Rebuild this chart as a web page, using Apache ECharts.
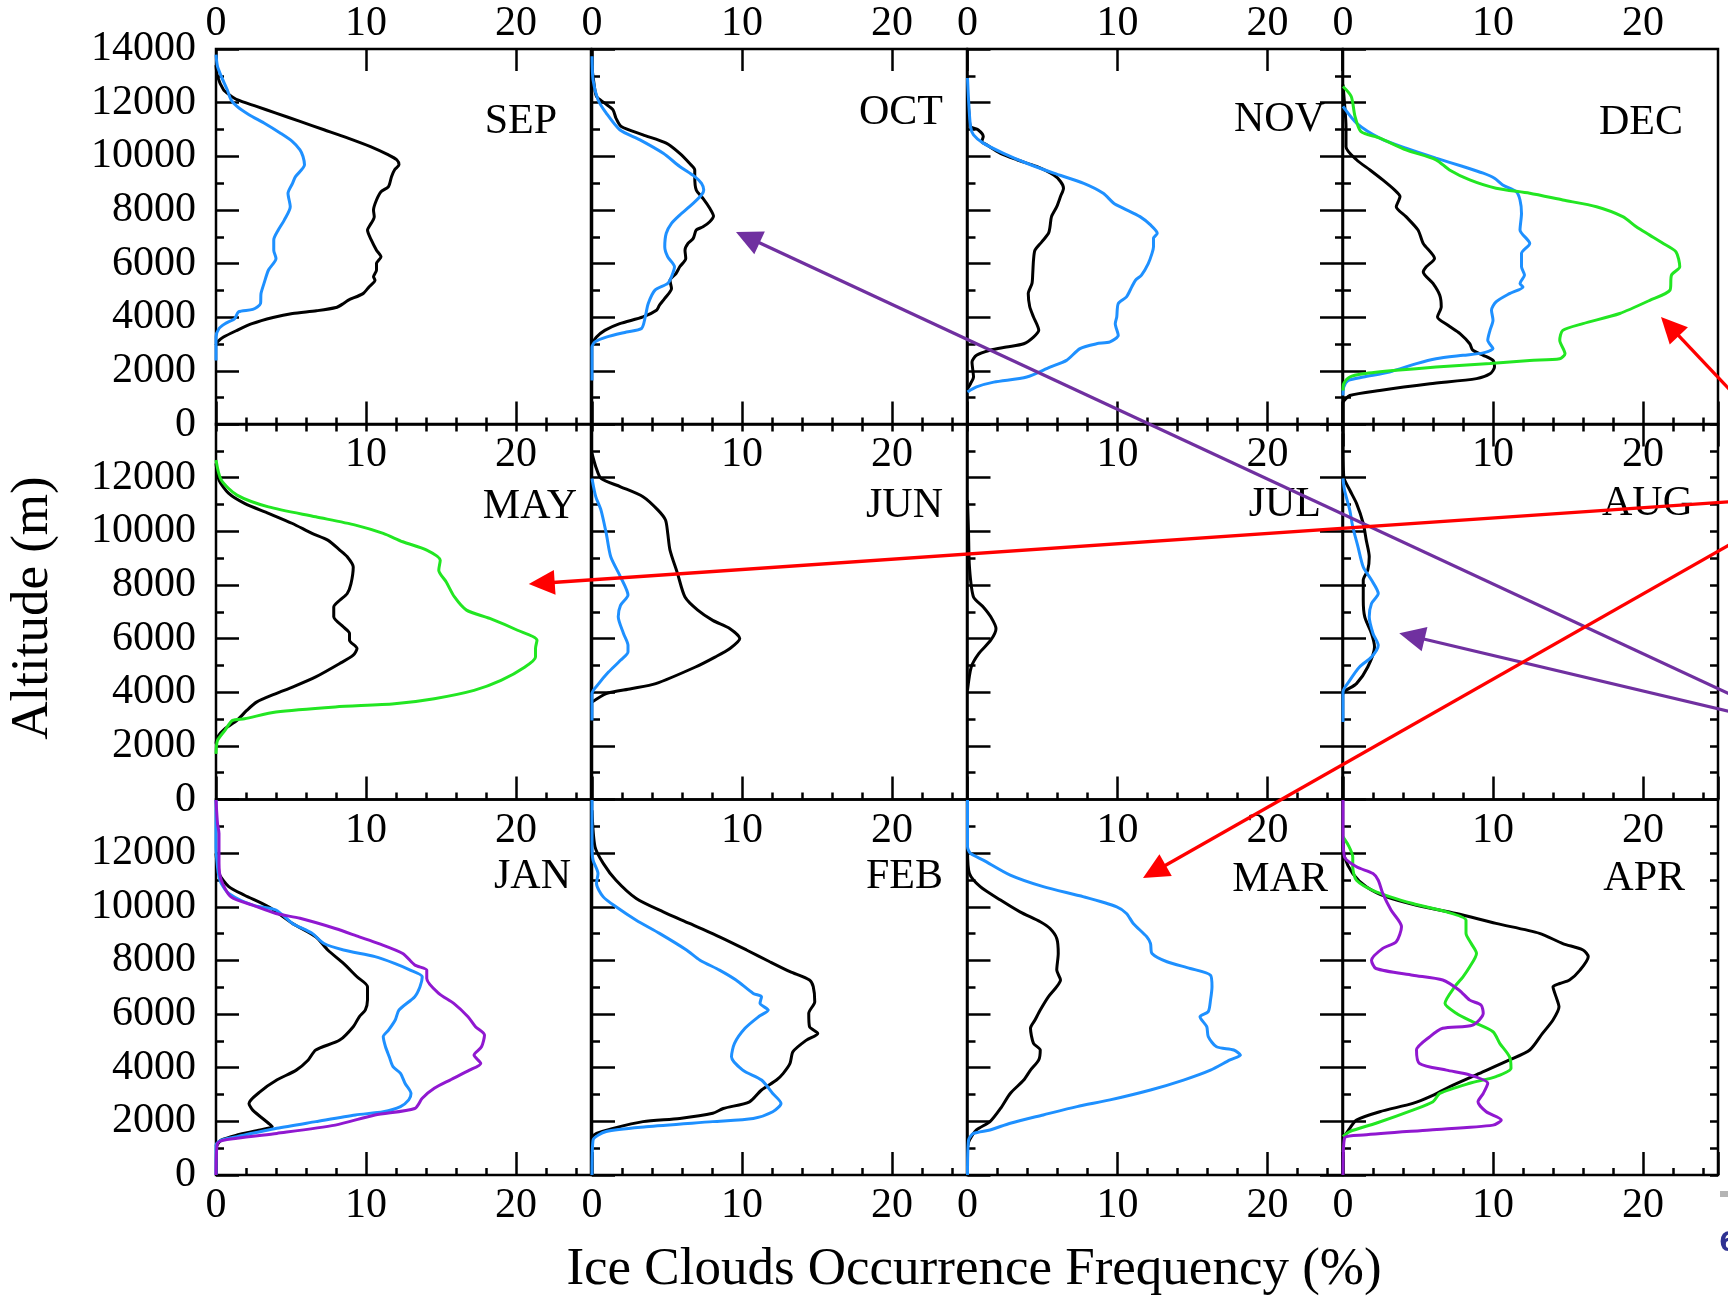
<!DOCTYPE html>
<html>
<head>
<meta charset="utf-8">
<script src="https://cdn.jsdelivr.net/npm/echarts@6/dist/echarts.min.js"></script>
<style>
  html, body { margin: 0; padding: 0; background: #fff; }
  #chart { width: 1728px; height: 1297px; }
</style>
</head>
<body>
<div id="chart"></div>
<script>
// Ice-cloud occurrence frequency profiles, one panel per month.
// Each point is [frequency (%), altitude (m)].
const SEP_BLACK = [[0,13400],[0.1,12980],[0.5,12480],[0.9,12290],[1.4,12110],[2.7,11860],[4.0,11610],[5.6,11300],[7.2,10990],[8.8,10680],[10.3,10360],[11.5,10050],[12.05,9870],[12.2,9680],[11.9,9490],[11.7,9240],[11.5,8870],[11.0,8680],[10.7,8370],[10.5,8000],[10.55,7750],[10.2,7370],[10.1,7250],[10.35,6880],[10.7,6500],[11.0,6250],[10.7,6000],[10.7,5760],[10.5,5510],[10.6,5380],[10.2,5130],[9.8,4880],[8.8,4630],[8.5,4510],[8.0,4360],[6.7,4240],[5.1,4140],[3.8,3990],[2.4,3760],[1.4,3510],[0.5,3260],[0.1,3080],[0,2950]];
const SEP_BLUE = [[0,13790],[0.1,13350],[0.35,12980],[0.75,12480],[1.0,12110],[1.4,11860],[2.2,11550],[3.2,11240],[4.3,10860],[5.1,10550],[5.6,10240],[5.8,9990],[5.9,9680],[5.3,9240],[5.1,8990],[4.8,8620],[4.95,8120],[4.55,7620],[4.15,7250],[3.85,6880],[3.85,6500],[4.0,6190],[3.5,5760],[3.2,5260],[3.0,4880],[2.97,4510],[2.45,4290],[1.5,4200],[1.25,3950],[0.6,3760],[0.2,3580],[0,3260],[0,2390]];

const OCT_BLACK = [[0,13300],[0.07,12980],[0.3,12230],[0.85,11980],[1.4,11730],[1.6,11420],[1.95,11110],[3.4,10800],[4.95,10490],[5.85,10110],[6.5,9740],[6.85,9490],[6.85,9240],[6.95,8740],[7.4,8430],[7.85,8060],[8.1,7770],[7.85,7560],[7.4,7370],[6.95,7250],[6.75,6940],[6.4,6750],[6.2,6500],[6.25,6190],[5.85,5880],[5.6,5630],[5.2,5380],[5.3,5070],[4.85,4700],[4.5,4450],[4.3,4260],[3.4,4010],[1.85,3760],[0.85,3510],[0.3,3260],[0,3010]];
const OCT_BLUE = [[0,13730],[0.07,12850],[0.4,12110],[0.95,11610],[1.85,10990],[3.2,10610],[4.75,10110],[5.85,9620],[6.85,9240],[7.3,8990],[7.45,8740],[7.3,8560],[6.5,8120],[5.85,7810],[5.3,7500],[4.95,7130],[4.85,6630],[5.05,6250],[5.5,5880],[5.3,5510],[5.05,5260],[4.2,5010],[3.75,4510],[3.55,4010],[3.3,3580],[2.3,3450],[0.95,3260],[0.2,3080],[0,2890],[0,1640]];

const NOV_BLACK = [[0,12230],[0.1,11600],[0.2,11110],[0.7,10990],[1.05,10740],[0.95,10550],[1.3,10420],[2.2,10110],[3.3,9870],[4.6,9620],[5.75,9300],[6.2,9060],[6.4,8810],[6.2,8500],[5.95,8120],[5.6,7750],[5.5,7370],[5.4,7130],[4.95,6810],[4.5,6500],[4.4,6130],[4.35,5630],[4.3,5260],[4.05,4880],[4.15,4390],[4.4,4010],[4.75,3510],[4.4,3260],[3.75,3010],[2.6,2890],[1.5,2770],[0.6,2580],[0.3,2330],[0.4,1770],[0.2,1520],[0,1330]];
const NOV_BLUE = [[0,12920],[0.07,12110],[0.2,11110],[0.4,10800],[1.05,10490],[2.4,10110],[3.95,9740],[5.75,9370],[7.75,8990],[9.05,8620],[9.75,8250],[10.4,8060],[11.5,7750],[12.2,7440],[12.65,7130],[12.4,6940],[12.4,6630],[12.3,6380],[12.05,6000],[11.6,5570],[11.2,5380],[10.95,5130],[10.6,4760],[10.05,4510],[9.95,4010],[9.85,3760],[10.05,3330],[9.5,3080],[8.6,3010],[7.5,2830],[6.6,2390],[5.5,2140],[3.95,1770],[1.75,1580],[0.6,1400],[0,1210]];

const DEC_BLACK = [[0,12670],[0.1,11980],[0.2,11110],[0.2,10360],[0.9,9870],[1.8,9490],[2.65,9120],[3.45,8740],[3.8,8500],[3.55,8120],[4.2,7750],[5.0,7250],[5.35,6750],[6.1,6190],[5.55,5880],[5.35,5690],[6.0,5260],[6.45,4820],[6.55,4390],[6.3,4010],[7.0,3700],[7.8,3390],[8.45,3010],[8.65,2770],[9.35,2580],[10.0,2390],[10.1,2140],[9.8,1890],[8.9,1710],[5.8,1520],[2.45,1270],[0.45,1080],[0,840]];
const DEC_BLUE = [[0,11860],[0.9,11240],[2.45,10680],[4.2,10300],[6.2,9930],[8.0,9620],[9.35,9370],[10.1,9180],[10.65,8930],[11.55,8680],[11.8,8370],[11.9,7870],[11.8,7250],[12.45,6750],[11.9,6380],[11.9,5880],[12.1,5570],[11.8,5260],[12.0,5130],[11.1,4880],[10.2,4570],[9.9,4260],[10.0,3890],[9.8,3510],[9.65,3140],[10.0,2830],[9.35,2670],[8.0,2580],[6.2,2450],[4.9,2270],[3.1,1960],[1.35,1770],[0.35,1640],[0.05,1400],[0,1080]];
const DEC_GREEN = [[0,12600],[0.55,12230],[0.8,11490],[1.2,10920],[2.45,10680],[4.2,10240],[6.2,9870],[7.1,9490],[8.45,9120],[10.2,8810],[12.45,8620],[14.65,8370],[16.9,8120],[18.65,7750],[19.55,7370],[20.45,7060],[21.35,6750],[22.2,6440],[22.45,5880],[21.9,5570],[21.8,5010],[20.45,4630],[18.45,4140],[16.0,3760],[14.65,3510],[14.45,3140],[14.8,2640],[14.45,2450],[12.45,2390],[9.8,2270],[6.2,2140],[3.55,2020],[1.35,1890],[0.45,1770],[0.05,1520],[0,1270]];

const MAY_BLACK = [[0,12530],[0.2,11910],[0.85,11410],[1.9,11040],[3.5,10670],[5.1,10290],[6.4,9920],[7.45,9670],[8.25,9300],[8.75,9050],[9.15,8670],[9.0,8050],[8.75,7680],[8.25,7430],[7.85,7180],[7.85,6810],[8.5,6430],[8.9,6190],[8.9,5940],[9.4,5630],[9.15,5380],[8.25,5070],[6.65,4570],[5.1,4190],[4.0,3950],[2.7,3630],[2.05,3320],[1.4,2950],[0.6,2640],[0.1,2330],[0,2080]];
const MAY_GREEN = [[0,12660],[0.35,11910],[1.4,11350],[3.5,10910],[6.65,10540],[9.3,10230],[11.15,9920],[12.45,9610],[14.05,9300],[14.95,8920],[14.85,8550],[15.35,8110],[15.9,7550],[16.7,7060],[18.25,6750],[20.1,6310],[21.4,5940],[21.3,5630],[21.3,5310],[20.6,4940],[19.0,4440],[17.2,4070],[14.55,3760],[11.9,3570],[7.95,3450],[4.0,3260],[1.9,3010],[1.1,2950],[0.6,2580],[0.1,2200],[0,1700]];

const JUN_BLACK = [[0,12900],[0.25,12410],[0.6,11970],[1.9,11660],[3.4,11290],[4.4,10790],[4.9,10420],[5.05,9920],[5.2,9300],[5.7,8430],[6.2,7550],[7.05,7060],[8.05,6680],[9.2,6370],[9.85,6000],[9.2,5630],[8.2,5310],[6.9,4940],[4.25,4320],[2.6,4130],[0.95,3950],[0,3630]];
const JUN_BLUE = [[0,11970],[0.25,11290],[0.6,10790],[0.95,9920],[1.25,9050],[1.9,8300],[2.4,7620],[1.9,7240],[1.75,6810],[2.1,6190],[2.4,5750],[2.4,5500],[1.9,5190],[1.1,4750],[0.45,4320],[0,3950],[0,2950]];

const JUL_BLACK = [[0,11160],[0.07,9920],[0.13,8670],[0.4,7550],[1.05,7180],[1.55,6810],[1.9,6370],[1.55,5940],[0.75,5440],[0.25,4940],[0,4070]];

const AUG_BLACK = [[0,13650],[0.05,12030],[0.45,11540],[0.9,11040],[1.35,10290],[1.55,9670],[1.75,9050],[1.65,8550],[1.35,8180],[1.35,7430],[1.45,6810],[1.9,6190],[2.1,5690],[1.65,4940],[0.9,4320],[0.2,4070],[0,3950]];
const AUG_BLUE = [[0,11970],[0.1,11540],[0.45,10790],[0.65,10170],[1.0,9420],[1.35,8670],[1.9,8180],[2.35,7680],[1.9,7310],[1.75,6810],[2.0,6190],[2.35,5750],[1.9,5310],[1.1,4940],[0.45,4440],[0,4010],[0,2890]];

const JAN_BLACK = [[0,11990],[0.2,11240],[0.85,10750],[1.9,10430],[3.5,10000],[5.1,9380],[6.65,8880],[7.45,8390],[8.5,7890],[9.4,7390],[10.1,7020],[10.1,6520],[9.95,6150],[9.55,5900],[9.15,5530],[8.25,5030],[6.65,4660],[6.15,4290],[5.35,3910],[4.05,3540],[2.95,3110],[2.2,2670],[2.45,2420],[3.5,1930],[3.75,1800],[2.95,1680],[1.4,1490],[0.35,1300],[0,1060]];
const JAN_BLUE = [[0,13980],[0,12240],[0.1,11490],[0.2,11120],[0.35,10870],[0.85,10500],[2.45,10060],[4.0,9880],[5.1,9380],[6.4,9010],[7.2,8630],[8.5,8390],[10.6,8140],[11.9,7890],[12.95,7640],[13.75,7390],[13.6,7020],[13.25,6650],[12.2,6150],[11.95,5780],[11.5,5400],[11.15,5160],[11.3,4780],[11.55,4410],[11.8,4040],[12.3,3790],[12.6,3420],[13.0,3040],[12.85,2800],[12.3,2550],[11.15,2360],[9.3,2240],[6.65,1990],[4.05,1740],[1.4,1430],[0.35,1300],[0,1120],[0,0]];
const JAN_PURPLE = [[0,13980],[0.1,13110],[0.2,12730],[0.2,11620],[0.35,10990],[1.0,10370],[2.45,10060],[4.0,9750],[5.6,9570],[7.95,9190],[9.55,8880],[10.85,8630],[12.45,8260],[13.25,7830],[14.05,7640],[14.05,7330],[14.85,6770],[15.85,6400],[16.8,5900],[17.3,5530],[17.9,5220],[17.7,4780],[17.2,4470],[17.65,4160],[16.9,3910],[15.6,3540],[14.55,3230],[13.75,2860],[13.25,2480],[10.6,2240],[7.95,1860],[4.05,1550],[1.4,1370],[0.1,1180],[0,0]];

const FEB_BLACK = [[0,13600],[0.2,12240],[0.75,11620],[1.6,10990],[2.95,10310],[4.75,9810],[6.5,9380],[8.5,8880],[10.3,8390],[11.85,7950],[13.2,7580],[14.5,7270],[14.75,7020],[14.85,6460],[14.45,6030],[14.5,5530],[15.05,5280],[14.3,5030],[13.4,4600],[13.2,4160],[12.75,3790],[12.3,3540],[11.3,3170],[10.5,2730],[8.75,2480],[8.05,2300],[5.85,2110],[3.4,1990],[1.4,1740],[0.3,1550],[0,1430]];
const FEB_BLUE = [[0,13980],[0,12240],[0.07,11740],[0.4,11240],[0.3,10870],[0.75,10370],[1.6,10000],[2.95,9500],[4.5,9010],[6.3,8390],[7.2,8010],[8.5,7640],[9.6,7270],[10.75,6770],[11.3,6650],[11.2,6400],[11.75,6150],[11.1,5900],[10.2,5470],[9.5,4910],[9.3,4410],[10.05,3910],[11.3,3540],[12.05,3040],[12.6,2670],[12.05,2360],[10.75,2110],[8.05,1990],[3.6,1800],[0.95,1620],[0.07,1300],[0,0]];

const MAR_BLACK = [[0,12110],[0.13,11240],[0.85,10750],[2.2,10250],[3.5,9810],[4.85,9440],[5.5,9190],[5.95,8820],[6.05,8260],[5.95,7640],[6.2,7270],[5.95,7020],[5.4,6650],[4.85,6150],[4.5,5780],[4.2,5470],[4.4,4910],[4.85,4660],[4.75,4290],[4.2,3910],[3.75,3540],[2.85,3040],[2.2,2480],[1.5,1990],[0.6,1680],[0.13,1300],[0,1060]];
const MAR_BLUE = [[0,13980],[0,12240],[0.2,11990],[1.05,11740],[2.85,11180],[5.05,10750],[7.75,10370],[9.95,10000],[10.6,9750],[11.05,9380],[11.95,8880],[12.2,8630],[12.3,8260],[13.3,7950],[14.85,7700],[16.2,7450],[16.3,7020],[16.2,6520],[16.05,6090],[15.5,5900],[15.95,5530],[16.05,5160],[16.6,4780],[17.75,4660],[18.2,4470],[17.5,4290],[16.2,3910],[14.4,3540],[12.2,3170],[9.5,2800],[7.3,2550],[5.05,2240],[2.85,1930],[1.5,1680],[0.4,1550],[0.07,1300],[0,0]];

const APR_BLACK = [[0,12480],[0.1,11860],[0.65,11240],[1.55,10750],[2.9,10370],[4.9,10060],[7.55,9750],[10.2,9380],[13.1,9010],[14.65,8630],[16.0,8390],[16.35,8140],[15.8,7640],[15.1,7270],[14.45,7140],[14.0,7020],[14.2,6650],[14.4,6270],[14.0,5780],[13.3,5280],[12.45,4660],[11.1,4290],[9.1,3790],[7.1,3290],[5.8,2920],[4.65,2670],[2.45,2360],[0.9,2050],[0.45,1740],[0,1370]];
const APR_GREEN = [[0,12610],[0.35,12300],[0.65,11860],[0.65,11490],[0.9,10990],[2.2,10560],[4.65,10120],[6.9,9810],[8.2,9500],[8.2,9010],[8.55,8630],[8.9,8260],[8.45,7760],[8.0,7390],[7.45,7020],[6.8,6400],[7.55,6030],[8.65,5710],[10.0,5340],[10.45,4910],[11.1,4410],[11.2,3980],[10.2,3670],[8.45,3420],[6.45,3040],[6.0,2730],[4.65,2420],[2.2,1930],[0.45,1620],[0,1430]];
const APR_PURPLE = [[0,13980],[0,12860],[0.1,11860],[0.9,11490],[2.0,11240],[2.35,10990],[2.65,10500],[3.2,9880],[3.9,9260],[3.55,8700],[2.65,8450],[1.9,8010],[2.2,7700],[4.65,7450],[6.65,7270],[7.75,6890],[8.45,6520],[9.2,6340],[9.35,6030],[8.65,5590],[6.65,5470],[5.8,5160],[4.9,4660],[5.1,4160],[6.9,3910],[8.45,3730],[9.65,3420],[9.35,3040],[9.0,2730],[9.55,2360],[10.55,2050],[10.0,1860],[5.8,1680],[1.35,1490],[0.1,1370],[0,0]];

// Panel order: rows top to bottom, columns left to right
const MONTHS = ['SEP', 'OCT', 'NOV', 'DEC', 'MAY', 'JUN', 'JUL', 'AUG', 'JAN', 'FEB', 'MAR', 'APR'];
const PROFILES = {
  SEP: [['black', SEP_BLACK], ['blue', SEP_BLUE]],
  OCT: [['black', OCT_BLACK], ['blue', OCT_BLUE]],
  NOV: [['black', NOV_BLACK], ['blue', NOV_BLUE]],
  DEC: [['black', DEC_BLACK], ['blue', DEC_BLUE], ['green', DEC_GREEN]],
  MAY: [['black', MAY_BLACK], ['green', MAY_GREEN]],
  JUN: [['black', JUN_BLACK], ['blue', JUN_BLUE]],
  JUL: [['black', JUL_BLACK]],
  AUG: [['black', AUG_BLACK], ['blue', AUG_BLUE]],
  JAN: [['black', JAN_BLACK], ['blue', JAN_BLUE], ['purple', JAN_PURPLE]],
  FEB: [['black', FEB_BLACK], ['blue', FEB_BLUE]],
  MAR: [['black', MAR_BLACK], ['blue', MAR_BLUE]],
  APR: [['black', APR_BLACK], ['green', APR_GREEN], ['purple', APR_PURPLE]]
};

const X_MAX = 25;
const Y_MAX = 14000;
const X_TOP_LABELS = [0, 10, 20];
const X_INNER_LABELS = [10, 20];
const X_BOTTOM_LABELS = [0, 10, 20];

// Annotation arrows, given in the data space of a panel: [month, frequency, altitude]
const ARROWS = [
  { color: '#7030a0', tip: ['OCT', 9.6, 7180], tail: ['AUG', 26.6, 3720] },
  { color: '#7030a0', tip: ['AUG', 3.75, 6200], tail: ['AUG', 26.6, 3170] },
  { color: '#ff0000', tip: ['DEC', 21.2, 4010], tail: ['DEC', 26.6, 810] },
  { color: '#ff0000', tip: ['MAY', 20.85, 8030], tail: ['AUG', 26.6, 11130] },
  { color: '#ff0000', tip: ['MAR', 11.7, 11070], tail: ['AUG', 26.6, 9760] }
];

// ---- layout & style ----
const COL_LEFT = [216, 592, 967.5, 1343];
const ROW_TOP = [49, 424, 799.5];
const PANEL_W = 375;
const PANEL_H = 375.5;
const FONT = '"Liberation Serif", "Times New Roman", Times, serif';
const COLORS = { black: '#000000', blue: '#1e90ff', green: '#22e622', purple: '#9018d0' };
const TICK_STYLE = { color: '#000', width: 2.5 };

const chart = echarts.init(document.getElementById('chart'), null, { renderer: 'canvas' });

const grids = [], xAxes = [], yAxes = [], series = [];
const panelGrid = {};

function labelStyle(extra) {
  return Object.assign({
    show: true, color: '#000', fontFamily: FONT, fontSize: 42,
    showMinLabel: true, showMaxLabel: true
  }, extra);
}

function xAxis(gridIndex, position, interval, tickLen, label) {
  xAxes.push({
    type: 'value', gridIndex, position, min: 0, max: X_MAX, interval,
    axisLine: { show: false }, splitLine: { show: false },
    axisTick: { show: tickLen > 0, inside: true, length: tickLen, lineStyle: TICK_STYLE },
    axisLabel: label ? labelStyle(label) : { show: false }
  });
  return xAxes.length - 1;
}

function yAxis(gridIndex, position, interval, tickLen, label) {
  yAxes.push({
    type: 'value', gridIndex, position, min: 0, max: Y_MAX, interval,
    axisLine: { show: false }, splitLine: { show: false },
    axisTick: { show: tickLen > 0, inside: true, length: tickLen, lineStyle: TICK_STYLE },
    axisLabel: label ? labelStyle(label) : { show: false }
  });
  return yAxes.length - 1;
}

const only = list => v => (list.indexOf(v) >= 0 ? String(v) : '');

MONTHS.forEach((month, i) => {
  const r = Math.floor(i / 4), c = i % 4;
  const rect = {
    left: COL_LEFT[c], top: ROW_TOP[r], width: PANEL_W, height: PANEL_H,
    containLabel: false, outerBoundsMode: 'none'
  };
  // main grid: frame, major ticks, labels, curves
  const gMain = grids.length;
  grids.push(Object.assign({ show: true, borderColor: '#000', borderWidth: 2.5, backgroundColor: 'transparent' }, rect));
  // overlay grid carrying the minor ticks
  const gMinor = grids.length;
  grids.push(Object.assign({ show: false }, rect));
  panelGrid[month] = gMain;

  const xBottom = xAxis(gMain, 'bottom', 10, 23,
    r === 2 ? { margin: 10, formatter: only(X_BOTTOM_LABELS) } : null);
  if (r === 0) {
    xAxis(gMain, 'top', 10, 22, { margin: 4, formatter: only(X_TOP_LABELS) });
    xAxis(gMinor, 'top', 2, 7, null);
  } else {
    xAxis(gMain, 'top', 10, 0, { inside: true, margin: 10, formatter: only(X_INNER_LABELS) });
  }
  xAxis(gMinor, 'bottom', 2, 7, null);

  const yLeft = yAxis(gMain, 'left', 2000, 23,
    c === 0 ? { margin: 20, formatter: v => (r > 0 && v === Y_MAX ? '' : String(v)) } : null);
  yAxis(gMinor, 'left', 1000, 8, null);
  if (c === 3) {
    yAxis(gMain, 'right', 2000, 23, null);
    yAxis(gMinor, 'right', 1000, 8, null);
  }

  PROFILES[month].forEach(([colorName, data]) => {
    series.push({
      type: 'line', name: month + ' ' + colorName,
      xAxisIndex: xBottom, yAxisIndex: yLeft,
      data, symbol: 'none', showSymbol: false, smooth: 0.25, clip: false,
      lineStyle: { color: COLORS[colorName], width: 3 },
      silent: true, animation: false, z: 3
    });
  });
});

const staticGraphics = [];
// month names
const MONTH_LABEL_POS = {
  SEP: [557, 122], OCT: [943, 113], NOV: [1325, 120], DEC: [1683, 123],
  MAY: [577, 507], JUN: [943, 506], JUL: [1321, 505], AUG: [1693, 504],
  JAN: [571, 877], FEB: [943, 877], MAR: [1328, 880], APR: [1685, 879]
};
MONTHS.forEach(m => {
  staticGraphics.push({
    type: 'text', x: MONTH_LABEL_POS[m][0], y: MONTH_LABEL_POS[m][1], z: 10,
    style: { text: m, font: '42px ' + FONT, fill: '#000', textAlign: 'right', textVerticalAlign: 'middle' }
  });
});
// axis titles
staticGraphics.push({
  type: 'text', x: 974, y: 1270, z: 10,
  style: { text: 'Ice Clouds Occurrence Frequency (%)', font: '53px ' + FONT, fill: '#000', textAlign: 'center', textVerticalAlign: 'middle' }
});
staticGraphics.push({
  type: 'text', x: 33, y: 608, rotation: Math.PI / 2, z: 10,
  style: { text: 'Altitude (m)', font: '53px ' + FONT, fill: '#000', textAlign: 'center', textVerticalAlign: 'middle' }
});
// page-corner marks
staticGraphics.push({
  type: 'rect', shape: { x: 1720, y: 1191, width: 8, height: 6 }, z: 10,
  style: { fill: '#b4b4b4' }
});
staticGraphics.push({
  type: 'text', x: 1719, y: 1244, z: 10,
  style: { text: '6', font: 'bold 26px "DejaVu Sans", sans-serif', fill: '#2e3192', textAlign: 'left', textVerticalAlign: 'middle' }
});

chart.setOption({
  animation: false,
  backgroundColor: '#ffffff',
  textStyle: { fontFamily: FONT },
  grid: grids,
  xAxis: xAxes,
  yAxis: yAxes,
  series,
  graphic: { elements: staticGraphics }
});

// arrows are placed through the panel coordinate systems
function toPixel(ref) {
  return chart.convertToPixel({ gridIndex: panelGrid[ref[0]] }, [ref[1], ref[2]]);
}
const arrowGraphics = [];
ARROWS.forEach(a => {
  const tip = toPixel(a.tip), tail = toPixel(a.tail);
  const dx = tail[0] - tip[0], dy = tail[1] - tip[1];
  const len = Math.hypot(dx, dy);
  const ux = dx / len, uy = dy / len;
  const headLen = 26, headHalf = 12.5;
  const bx = tip[0] + ux * headLen, by = tip[1] + uy * headLen;
  arrowGraphics.push({
    type: 'line', z: 20,
    shape: { x1: bx - ux * 2, y1: by - uy * 2, x2: tail[0], y2: tail[1] },
    style: { stroke: a.color, lineWidth: 3.3 }
  });
  arrowGraphics.push({
    type: 'polygon', z: 20,
    shape: { points: [tip, [bx - uy * headHalf, by + ux * headHalf], [bx + uy * headHalf, by - ux * headHalf]] },
    style: { fill: a.color }
  });
});
chart.setOption({ graphic: { elements: staticGraphics.concat(arrowGraphics) } }, { replaceMerge: ['graphic'] });
</script>
</body>
</html>
